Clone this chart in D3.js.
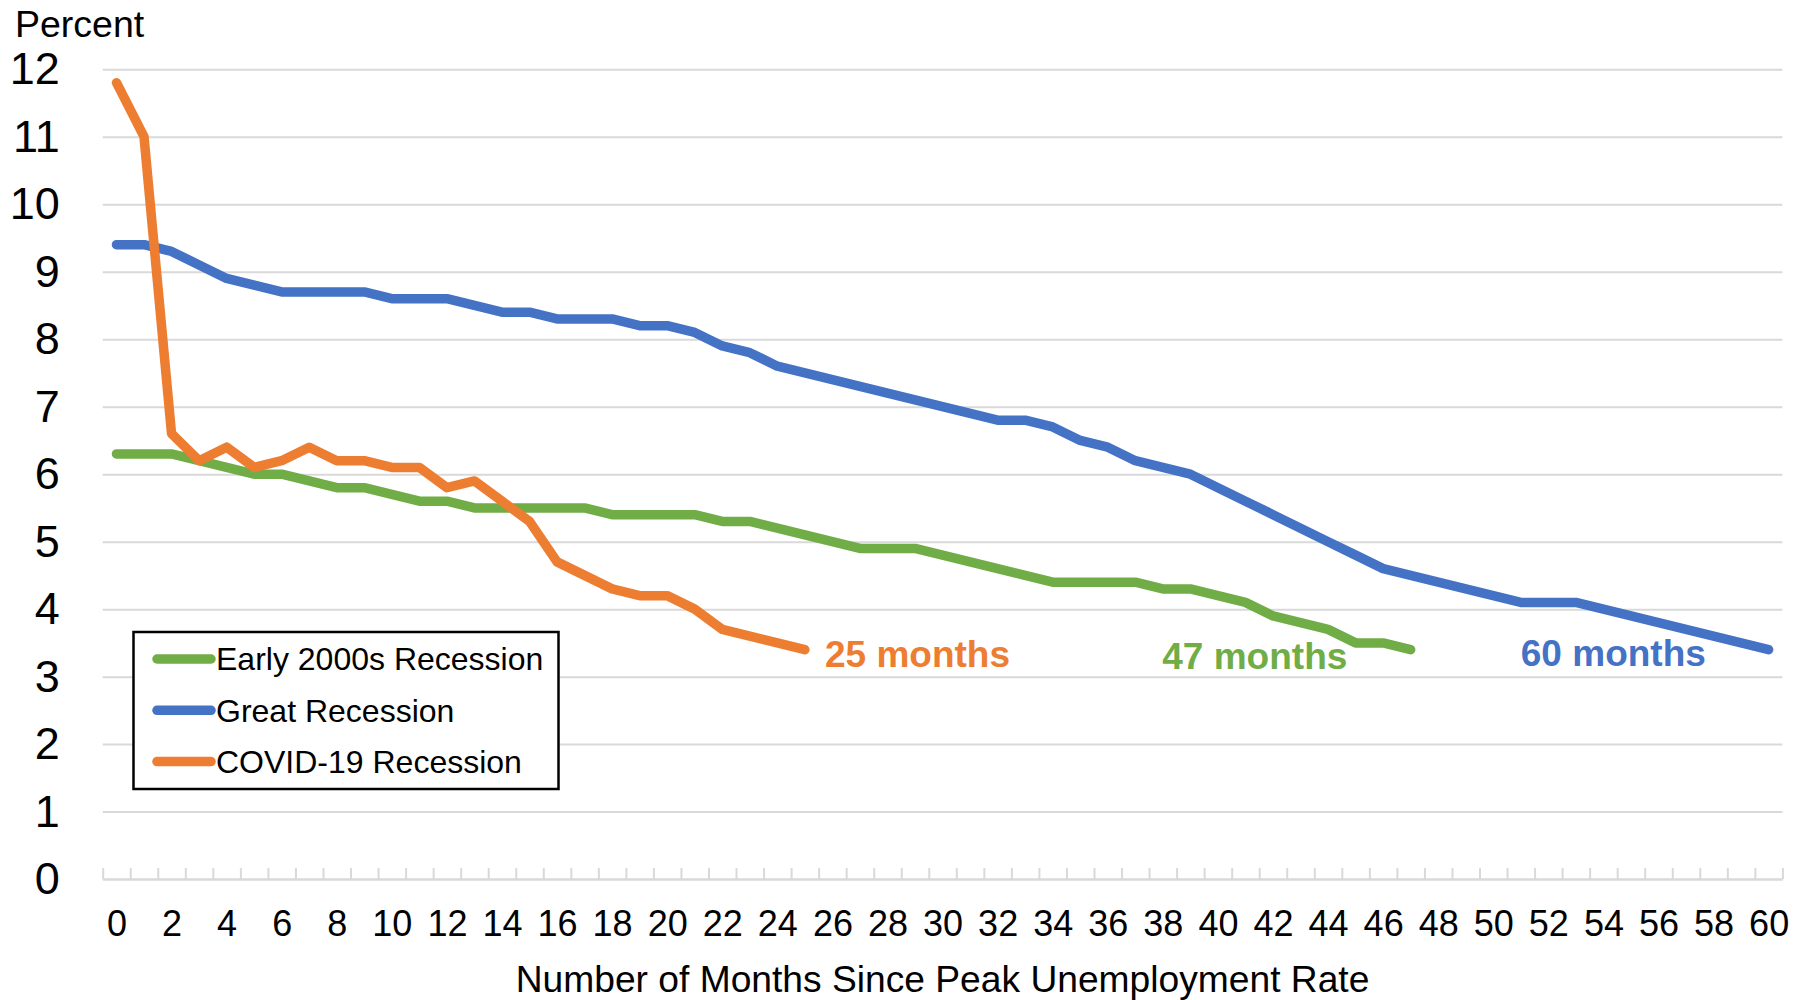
<!DOCTYPE html>
<html>
<head>
<meta charset="utf-8">
<script src="https://cdn.jsdelivr.net/npm/d3@7"></script>
<style>
  body { margin: 0; background: #fff; }
  svg { display: block; font-family: "Liberation Sans", Arial, sans-serif; }
</style>
</head>
<body>
<div id="chart"></div>
<script>
// unemployment rate, months since peak
const xTickLabels = d3.range(0, 61, 2);
const yTicks = d3.range(0, 13);
const seriesNames = ["Early 2000s Recession", "Great Recession", "COVID-19 Recession"];
const seriesColors = ["#70AD47", "#4472C4", "#ED7D31"];

const early2000s = [6.3,6.3,6.3,6.2,6.1,6.0,6.0,5.9,5.8,5.8,
  5.7,5.6,5.6,5.5,5.5,5.5,5.5,5.5,5.4,5.4,
  5.4,5.4,5.3,5.3,5.2,5.1,5.0,4.9,4.9,4.9,
  4.8,4.7,4.6,4.5,4.4,4.4,4.4,4.4,4.3,4.3,
  4.2,4.1,3.9,3.8,3.7,3.5,3.5,3.4];
const greatRecession = [9.4,9.4,9.3,9.1,8.9,8.8,8.7,8.7,8.7,8.7,
  8.6,8.6,8.6,8.5,8.4,8.4,8.3,8.3,8.3,8.2,
  8.2,8.1,7.9,7.8,7.6,7.5,7.4,7.3,7.2,7.1,
  7.0,6.9,6.8,6.8,6.7,6.5,6.4,6.2,6.1,6.0,
  5.8,5.6,5.4,5.2,5.0,4.8,4.6,4.5,4.4,4.3,
  4.2,4.1,4.1,4.1,4.0,3.9,3.8,3.7,3.6,3.5,
  3.4];
const covid19 = [11.8,11.0,6.6,6.2,6.4,6.1,6.2,6.4,6.2,6.2,
  6.1,6.1,5.8,5.9,5.6,5.3,4.7,4.5,4.3,4.2,
  4.2,4.0,3.7,3.6,3.5,3.4];
const endLabels = ["47 months", "60 months", "25 months"];

const W = 1809, H = 1000;
const L = 102.7, R = 1782.4, T = 69.2, B = 879.1;
const GRID = "#D9D9D9";

var svg = d3.select("#chart").append("svg")
  .attr("width", W).attr("height", H);

var x = d3.scaleLinear().domain([-0.5, 60.5]).range([L, R]);
var y = d3.scaleLinear().domain([0, 12]).range([B, T]);

// gridlines + y labels
var gy = svg.append("g")
  .attr("transform", "translate(" + L + ",0)")
  .call(d3.axisLeft(y).tickValues(yTicks).tickSize(-(R - L)).tickPadding(43));
gy.select(".domain").remove();
gy.selectAll("line").attr("stroke", GRID).attr("stroke-width", 2);
gy.selectAll("text").attr("font-size", 45).attr("fill", "#000")
  .style("font-family", "inherit");

// x axis line with category tick marks
var gx = svg.append("g")
  .attr("transform", "translate(0," + B + ")")
  .call(d3.axisBottom(x).tickValues(d3.range(-0.5, 61, 1))
    .tickSize(-11).tickSizeOuter(0).tickFormat(""));
gx.select(".domain").attr("stroke", GRID).attr("stroke-width", 2);
gx.selectAll("line").attr("stroke", GRID).attr("stroke-width", 2);

var gxl = svg.append("g")
  .attr("transform", "translate(0," + B + ")")
  .call(d3.axisBottom(x).tickValues(xTickLabels).tickSize(0).tickPadding(31));
gxl.select(".domain").remove();
gxl.selectAll("text").attr("font-size", 36).attr("fill", "#000")
  .style("font-family", "inherit");

// axis titles
svg.append("text").attr("x", 15).attr("y", 37)
  .attr("font-size", 37.5).text("Percent");
svg.append("text").attr("x", (L + R) / 2).attr("y", 992)
  .attr("text-anchor", "middle").attr("font-size", 37.2)
  .text("Number of Months Since Peak Unemployment Rate");

// series
var line = d3.line().x(function(d, i) { return x(i); }).y(function(d) { return y(d); });
var allSeries = [early2000s, greatRecession, covid19];
svg.selectAll(".series").data(allSeries).enter().append("path")
  .attr("class", "series")
  .attr("d", line)
  .attr("fill", "none")
  .attr("stroke", function(d, i) { return seriesColors[i]; })
  .attr("stroke-width", 9.5)
  .attr("stroke-linejoin", "round")
  .attr("stroke-linecap", "round");

// end labels (position in month / percent units)
var notePos = [[37.98, 3.12], [51.0, 3.16], [25.73, 3.15]];
svg.selectAll(".note").data(endLabels).enter().append("text")
  .attr("class", "note")
  .attr("x", function(d, i) { return x(notePos[i][0]); })
  .attr("y", function(d, i) { return y(notePos[i][1]); })
  .attr("font-size", 37).attr("font-weight", "bold")
  .attr("fill", function(d, i) { return seriesColors[i]; })
  .text(function(d) { return d; });

// legend
var lg = svg.append("g");
lg.append("rect").attr("x", 133.5).attr("y", 632).attr("width", 425).attr("height", 157)
  .attr("fill", "#fff").attr("stroke", "#000").attr("stroke-width", 2.5);
var item = lg.selectAll(".item").data(seriesNames).enter().append("g")
  .attr("class", "item")
  .attr("transform", function(d, i) { return "translate(0," + (659 + i * 51.3) + ")"; });
item.append("line").attr("x1", 157).attr("x2", 211).attr("y1", 0).attr("y2", 0)
  .attr("stroke", function(d, i) { return seriesColors[i]; })
  .attr("stroke-width", 9.5).attr("stroke-linecap", "round");
item.append("text").attr("x", 216).attr("dy", "0.35em")
  .attr("font-size", 32).text(function(d) { return d; });
</script>
</body>
</html>
